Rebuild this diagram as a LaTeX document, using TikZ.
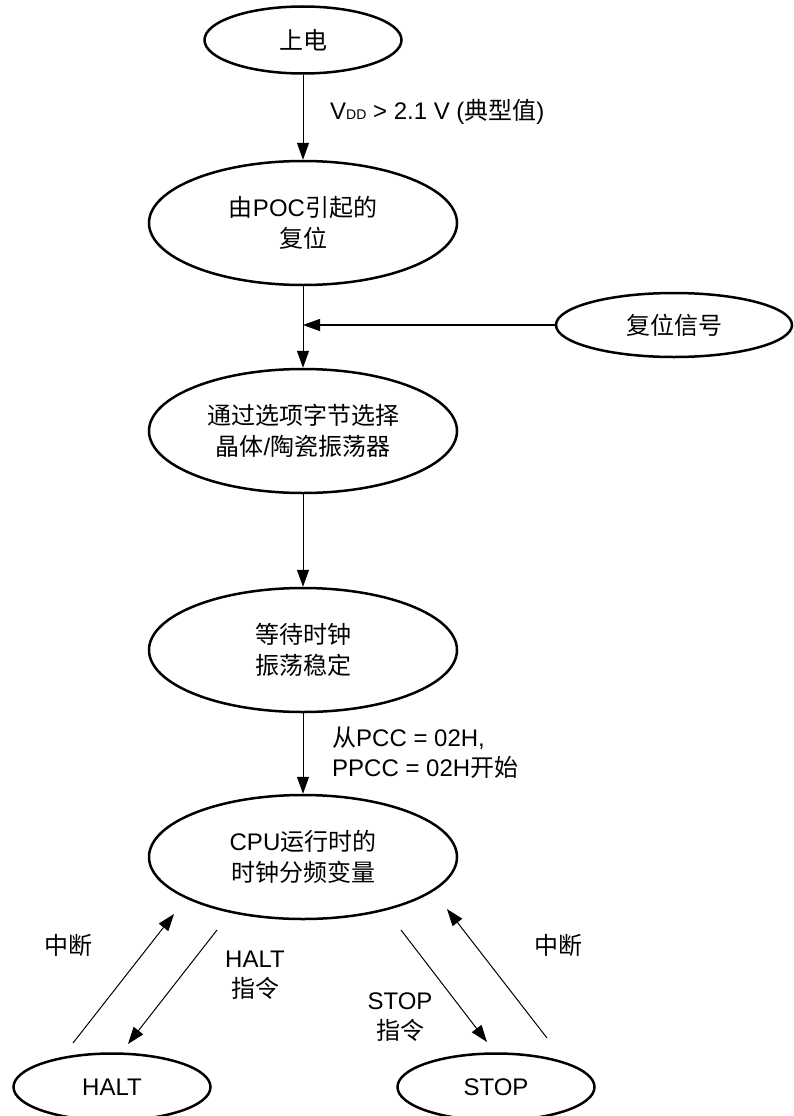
\documentclass[tikz,border=0pt]{standalone}
\usepackage{fontspec}
\setmainfont{Liberation Sans}
\newfontfamily\cjk{Noto Sans CJK SC}
\usetikzlibrary{shapes.geometric,arrows.meta}
\begin{document}
\begin{tikzpicture}[x=1pt,y=-1pt,
  state/.style={ellipse,draw,line width=2.5pt,inner sep=0pt,align=center,
    font=\fontsize{24}{31}\selectfont},
  big/.style={state,minimum width=308pt,minimum height=124pt},
  small/.style={state,minimum width=197pt,minimum height=67pt},
  lbl/.style={inner sep=0pt,font=\fontsize{24}{30}\selectfont},
  conn/.style={line width=1pt,-{Triangle[length=17pt,width=12pt]}}
]
\useasboundingbox (0,0) rectangle (793,1116);

\node[small] (pwr) at (303,40) {{\cjk 上电}};
\node[big] (poc) at (303,223) {{\cjk 由}POC{\cjk 引起的}\\{\cjk 复位}};
\node[big] (sel) at (303,431) {{\cjk 通过选项字节选择}\\{\cjk 晶体}/{\cjk 陶瓷振荡器}};
\node[big] (wait) at (303,650) {{\cjk 等待时钟}\\{\cjk 振荡稳定}};
\node[big] (cpu) at (303,857) {CPU{\cjk 运行时的}\\{\cjk 时钟分频变量}};
\node[state,minimum width=236pt,minimum height=64pt] (rst) at (674,325) {{\cjk 复位信号}};
\node[small] (halt) at (112,1087) {HALT};
\node[small] (stop) at (496,1087) {STOP};

\coordinate (j) at (303,325);

\draw[conn] (pwr) -- (poc);
\draw[conn] (poc) -- (sel);
\draw[line width=1.3pt,-{Triangle[length=17pt,width=12pt]}] (rst) -- (j);
\draw[conn] (sel) -- (wait);
\draw[conn] (wait) -- (cpu);

\node[lbl,anchor=west] (vdd) at (330,112) {V{\fontsize{14}{14}\selectfont DD} > 2.1 V ({\cjk 典型值})};
\node[lbl,anchor=west,align=left] (pcc) at (332,753) {{\cjk 从}PCC = 02H,\\PPCC = 02H{\cjk 开始}};

\coordinate (a1) at (73,1043);
\coordinate (a2) at (174,914);
\coordinate (b1) at (217,930);
\coordinate (b2) at (128,1044);
\coordinate (c1) at (401,930);
\coordinate (c2) at (487,1042);
\coordinate (d1) at (547,1038);
\coordinate (d2) at (447,909);

\draw[conn] (a1) -- (a2);
\draw[conn] (b1) -- (b2);
\draw[conn] (c1) -- (c2);
\draw[conn] (d1) -- (d2);

\node[lbl] (int1) at (68,945) {{\cjk 中断}};
\node[lbl] (int2) at (558,945) {{\cjk 中断}};
\node[lbl,align=center] (hins) at (255,975) {HALT\\{\cjk 指令}};
\node[lbl,align=center] (sins) at (400,1017) {STOP\\{\cjk 指令}};
\end{tikzpicture}
\end{document}
